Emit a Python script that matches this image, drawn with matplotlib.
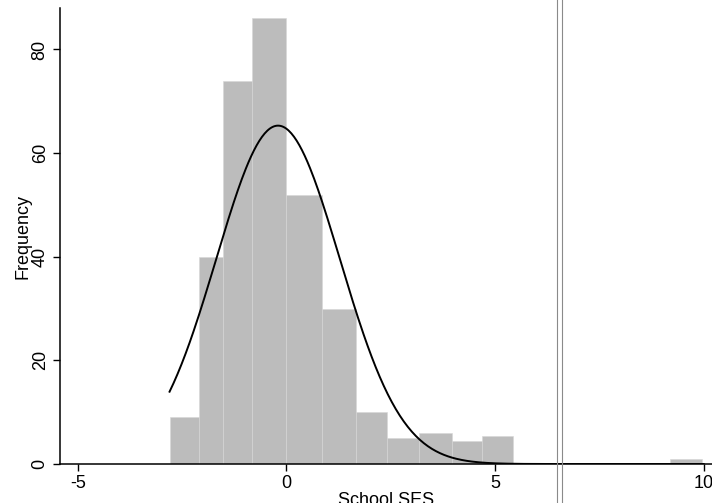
import numpy as np
import matplotlib
matplotlib.use("Agg")
import matplotlib.pyplot as plt
from matplotlib.lines import Line2D

bin_edges = [-2.8, -2.1, -1.53, -0.82, 0.0, 0.86, 1.68, 2.42, 3.19, 3.96, 4.68, 5.44]
counts = [9, 40, 74, 86, 52, 30, 10, 5, 6, 4.5, 5.5]
outlier_edges = [9.2, 9.95]
outlier_count = [1]

# fitted normal overlay
ses_mean = -0.2
ses_sd = 1.48
bin_width = 0.75
ses_min, ses_max = -2.8, 10.0

xticks = [-5, 0, 5, 10]
yticks = [0, 20, 40, 60, 80]

plt.rcParams.update({"font.family": ["Liberation Sans", "DejaVu Sans"], "font.size": 13,
                     "axes.unicode_minus": False})
fig = plt.figure(figsize=(7.12, 5.03), dpi=100)
ax = fig.add_axes([0.084, 0.0775, 0.916, 0.9066])

bar_kw = dict(align="edge", color="#bcbcbc", edgecolor="#d6d6d6", lw=0.4)
ax.bar(bin_edges[:-1], counts, width=np.diff(bin_edges), **bar_kw)
ax.bar(outlier_edges[:-1], outlier_count, width=np.diff(outlier_edges), **bar_kw)

xs = np.linspace(ses_min, ses_max, 400)
n = sum(counts) + sum(outlier_count)
dens = n * bin_width / (ses_sd * np.sqrt(2 * np.pi)) * np.exp(-0.5 * ((xs - ses_mean) / ses_sd) ** 2)
ax.plot(xs, dens, color="black", lw=1.4)

ax.set_xlim(-5.43, 10.2)
ax.set_ylim(0, 88)
ax.set_xticks(xticks)
ax.set_yticks(yticks)
ax.set_yticklabels([str(t) for t in yticks], rotation=90, va="center")
ax.spines[["top", "right"]].set_visible(False)
ax.spines[["left", "bottom"]].set_linewidth(1.1)
ax.tick_params(length=5, width=1, pad=3)
ax.set_xlabel("School SES", labelpad=0)
ax.set_ylabel("Frequency", labelpad=0)

# scanner fold lines
for xf in (0.783, 0.789):
    fig.add_artist(Line2D([xf, xf], [0, 1], transform=fig.transFigure, color="#8a8a8a", lw=0.8))

fig.savefig("out.png")
